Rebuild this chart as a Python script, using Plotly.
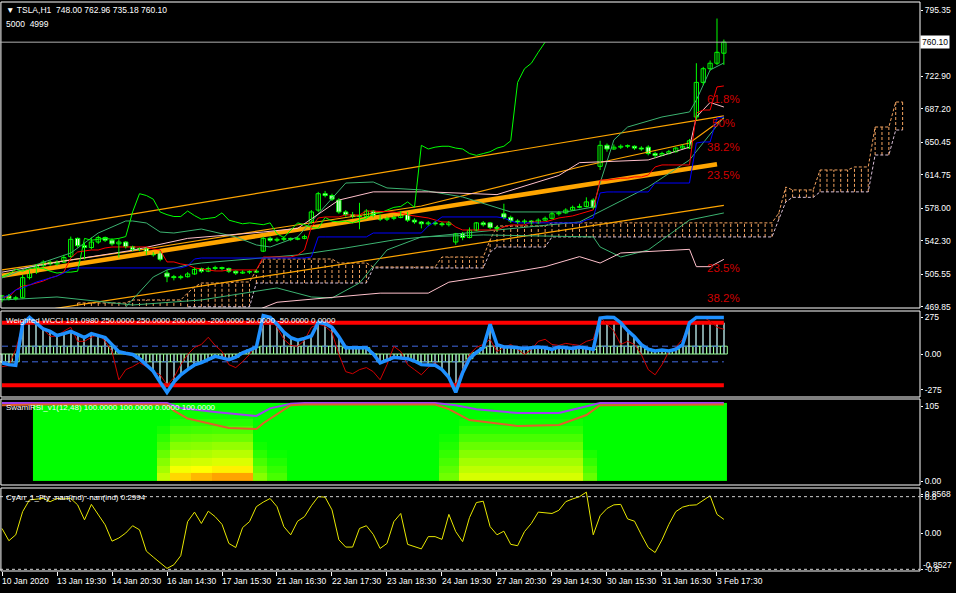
import plotly.graph_objects as go

# ---------------- data ----------------
bars = list(range(106))
opens = [478,482,479,480,502,508,515,519,517,519, 525,545,537,535,541,546,543,539,541,536,
         533,534,528,530,507,503,502,503,506,512, 509,512,513,512,509,507,508,508,531,545,
         543,544,545,544,545,563,576,594,592,587, 574,571,569,569,575,570,566,567,568,573,
         565,563,561,562,561,560,541,550,546,554, 562,562,557,572,568,564,563,564,562,565,
         567,572,573,576,579,580,587,624,647,643, 645,646,646,644,645,638,636,638,640,644,
         644,678,716,731,737,748]
highs = [483,484,482,505,510,517,521,521,521,527, 547,546,540,546,548,547,545,544,542,537,
         535,535,530,531,510,505,505,508,513,513, 514,515,514,513,510,510,510,511,547,547,
         546,547,546,547,549,576,596,597,594,589, 576,574,584,577,576,571,569,570,575,574,
         567,564,564,564,563,564,551,552,557,563, 564,563,559,583,570,566,566,565,567,569,
         574,575,578,581,583,590,589,652,649,648, 648,648,647,646,647,640,640,642,645,648,
         654,737,733,740,786,762.96]
lows = [475,477,477,479,500,506,513,515,515,518, 524,535,522,533,539,541,537,524,534,531,
        531,527,525,520,497,499,500,502,505,507, 508,510,510,507,505,506,506,507,530,541,
        541,542,542,543,544,561,574,590,586,572, 569,567,555,567,568,564,564,565,567,563,
        561,556,559,559,558,558,538,543,545,553, 558,555,553,566,562,561,561,560,561,564,
        566,570,572,575,578,579,577,620,640,642, 643,644,642,641,636,633,635,637,639,643,
        643,675,713,729,735,735.18]
closes = [482,479,480,502,508,515,519,517,519,524, 544,537,535,541,546,543,539,541,536,533,
          534,528,527,522,503,502,503,506,511,509, 512,513,512,509,507,508,508,509,545,543,
          544,545,544,545,547,574,594,592,588,574, 571,569,569,575,570,566,567,568,573,565,
          563,561,562,561,560,562,550,546,554,562, 560,557,556,568,564,563,564,562,565,567,
          572,573,576,579,580,585,579,647,643,645, 646,646,644,643,638,636,638,640,644,646,
          652,716,731,737,749,760.10]

tenkan = [480.8,480.8,488.5,492.8,493.9,496.1,498.3,501.6,503.8,508.2, 523.5,530.1,531.2,532.3,532.3,534.5,535.6,535.6,535.6,535.6,
          535.6,535.6,533.4,532.3,519.2,519.2,517.0,515.9,512.6,511.5, 510.4,509.3,509.3,510.4,510.4,510.4,510.4,510.4,524.6,524.6,
          524.6,524.6,524.6,526.8,532.3,557.5,567.4,568.5,568.5,568.5, 570.7,570.7,570.7,575.1,574.5,574.5,574.5,574.0,572.9,570.7,
          569.6,568.5,567.4,565.2,563.0,563.0,557.5,554.2,554.2,554.2, 554.2,554.2,554.2,557.5,559.7,559.7,559.7,563.0,563.0,563.0,
          565.2,567.4,568.5,569.6,571.8,574.0,576.2,609.0,609.0,610.0, 611.0,611.0,612.4,612.4,614.5,623.3,625.5,625.5,625.5,625.5,
          625.5,682.4,685.7,685.7,711.0,712.1]
kijun = [479.7,483.0,488.5,490.7,493.9,497.2,499.4,501.6,503.8,507.1, 511.5] + [512.6]*16 + [514.8,522.4] + [523.5]*16 + \
        [524.6] + [546.6]*8 + [550.9]*8 + [558.6,563.0] + [568.5]*9 + [567.4,564.1] + [562.0]*10 + [565.2,567.4,594.8] + \
        [595.9]*7 + [605.7]*6 + [649.6,650.7,650.7,677.0,678.1]

cloud_bars = list(range(11, 132))
senkou_a = [474.2]*8 + [477.5]*8 + [485.2,491.7] + [496.1]*5 + [497.2]*3 + [510.4] + [522.4]*11 + [518.0]*5 + \
           [513.7]*10 + [524.6]*7 + [543.3] + [558.6]*8 + [562.0]*33 + [572.9,601.3] + [598.1]*4 + [620.0]*5 + \
           [623.3]*3 + [667.1]*3 + [694.5]*2
senkou_b = [460.0]*16 + [470.0]*10 + [496.1]*17 + [512.6]*17 + [530.0] + [535.6]*8 + [546.6]*33 + [566.0,585.0] + \
           [590.0]*4 + [596.0]*8 + [636.4]*3 + [663.8]*2

# regression channel (orange)
chan_up_bars, chan_up_vals = [0, 105], [548.0, 679.2]
chan_mid_bars, chan_mid_vals = [0, 104], [504.1, 626.2]
chan_lo_bars, chan_lo_vals = [0, 105], [459.2, 581.1]
ma_or_bars = [0, 20, 40, 61, 84, 100, 105]
ma_or_vals = [510.4, 532.3, 556.4, 580.5, 623.3, 649.6, 677.0]

# sea-green bands
bb_up_bars = [0,4,10,14,18,19,21,23,25,29,34,37,39,43,50,54,56,61,67,74,82,86,87,89,91,96,100,101,103,105]
bb_up_vals = [501.6,513.7,529.0,550.9,564.1,564.1,561.9,552.0,550.9,555.3,546.6,537.8,535.6,546.6,605.7,606.8,
              600.3,598.1,590.4,574.0,574.0,579.4,605.7,652.9,667.1,678.1,683.6,696.7,729.6,737.3]
bb_lo_bars = [0,8,19,29,40,45,48,52,56,61,70,83,86,87,90,94,100,105]
bb_lo_vals = [477.5,480.8,472.0,477.5,490.7,480.8,479.7,496.1,532.3,546.6,548.8,546.6,546.6,535.6,524.6,532.3,565.2,572.9]
bb_mid_bars = [18,22,24,27,29,38,43,50,57,72,84,94,100,105]
bb_mid_vals = [469.8,502.7,510.4,515.9,518.0,523.5,526.8,534.5,543.3,554.2,563.0,601.3,630.9,678.1]

# pink envelope
pk_up_bars = [0,8,19,27,38,43,49,54,62,72,81,84,94,100,101,103,105]
pk_up_vals = [508,519,532,545,552,556,587,596,596,593,614,628,631,645,678,694,689]
pk_lo_bars = [37,40,55,62,65,72,79,84,87,90,100,101,103,105]
pk_lo_vals = [466,475,485,485,497,505,514,525,518,529,533,514,514,522]

fib_texts = ["61.8%", "50%", "38.2%", "23.5%", "23.5%", "38.2%"]
fib_prices = [697.7, 671.5, 645.2, 614.5, 512.6, 479.7]

main_ticks = [795.35, 722.90, 687.20, 650.45, 614.75, 578.00, 542.30, 505.55, 469.85]

# Weighted WCCI
wcci_blue = [-57,-68,-72,191,234,195,160,145,118,130, 144,125,105,131,120,105,60,14,5,-3,
             -30,-70,-110,-180,-245,-180,-133,-100,-70,-55, -35,-15,-25,-36,-20,8,25,44,245,234,
             191,140,105,89,100,115,202,195,170,110, 40,40,40,40,0,-57,-40,-21,-25,-30,
             -45,-68,-70,-72,-100,-150,-245,-120,-30,10, 40,190,60,45,45,40,35,40,45,40,
             30,45,40,35,45,40,30,230,235,234, 200,150,110,60,30,20,25,20,30,60,
             200,234,234,234,234,234]
wcci_red = [-81,-74,29,184,210,191,158,113,113,146, 171,81,81,107,126,81,16,-165,-100,-81,
            -55,-81,-113,-133,-197,-152,-68,-3,42,61, 107,55,16,-68,-87,-49,-3,61,191,223,
            171,94,55,49,87,171,191,178,139,-3, -113,-126,-100,-87,-113,-165,-68,49,16,-68,
            -100,-133,-87,-55,-100,-165,-197,-100,-3,42, 61,94,16,42,61,29,-3,29,81,94,
            61,55,68,61,55,81,94,236,191,146, 61,81,61,-3,-100,-133,-68,16,42,94,
            191,236,236,210,171,158]
wcci_levels_hi = [200, -200]
wcci_levels_lo = [50, -50]

# SwamiRSI (columns = bar segments, values bottom row -> top row)
swami_edges_x = [4.5, 22.5, 24.5, 27.5, 30.5, 36.5, 38.5, 41.5, 63.5, 66.5, 84.5, 86.5, 105.5]
swami_edges_y = [0, 10, 20, 30, 40, 50, 60, 70, 80, 90, 100]
swami_cols = [
    [100,100,100,100,100,100,100,100,100,100],
    [62,68,74,80,86,91,96,100,100,100],
    [42,52,60,67,74,81,88,94,98,100],
    [36,50,59,66,73,80,87,93,98,100],
    [32,47,57,64,71,79,86,93,98,100],
    [74,80,86,92,97,100,100,100,100,100],
    [86,90,94,98,100,100,100,100,100,100],
    [100,100,100,100,100,100,100,100,100,100],
    [78,82,86,90,94,97,100,100,100,100],
    [58,63,68,74,80,86,92,97,100,100],
    [80,85,90,95,100,100,100,100,100,100],
    [100,100,100,100,100,100,100,100,100,100],
]
sw_purple_bars = [0,24,26,31,37,39,42,44,63,66,69,75,81,85,87,105]
sw_purple_vals = [100,100,93.5,88.4,83.3,93,99,100,100,97,92,87,87,95.8,100,100]
sw_orange_bars = [0,5,24,25,27,33,37,38,42,44,63,65,68,75,81,85,87,105]
sw_orange_vals = [97,98,98,90,80,68,66.6,74,97,98,98,92,78,70.5,71.7,84.5,97,98]

# CyAn
cyan_vals = [0.10,-0.17,-0.04,0.47,0.73,0.75,0.76,0.69,0.76,0.75, 0.76,0.62,0.29,0.63,0.40,0.18,-0.18,-0.11,0.0,0.16,
             0.07,-0.40,-0.53,-0.66,-0.78,-0.70,-0.50,0.25,0.46,0.21, 0.48,0.36,0.19,-0.23,-0.32,0.12,0.25,0.58,0.68,0.76,
             0.58,0.14,-0.04,0.26,0.36,0.60,0.80,0.79,0.51,-0.15, -0.31,-0.31,0.10,0.16,-0.03,-0.34,-0.23,0.25,0.43,-0.25,
             -0.30,-0.35,-0.08,-0.08,-0.14,0.41,0.03,-0.19,0.34,0.67, 0.70,0.14,-0.04,0.04,-0.25,-0.28,0.03,0.21,0.46,0.44,
             0.43,0.50,0.69,0.75,0.80,0.90,-0.04,0.38,0.54,0.62, 0.63,0.31,0.26,-0.04,-0.32,-0.43,-0.15,0.19,0.47,0.57,
             0.61,0.62,0.73,0.82,0.41,0.30]
cyan_levels = [0.8, -0.8]

tick_bars = [0, 8, 16, 24, 32, 40, 48, 56, 64, 72, 80, 88, 96, 104]
tick_labels = ["10 Jan 2020", "13 Jan 19:30", "14 Jan 20:30", "16 Jan 14:30", "17 Jan 15:30", "21 Jan 16:30",
               "22 Jan 17:30", "23 Jan 18:30", "24 Jan 19:30", "27 Jan 20:30", "29 Jan 14:30", "30 Jan 15:30",
               "31 Jan 16:30", "3 Feb 17:30"]

# ---------------- figure ----------------
FONT = "Liberation Sans, Arial, sans-serif"
NB = "\u00a0"
fig = go.Figure()

# cloud hatching
hx_up, hy_up, hx_dn, hy_dn = [], [], [], []
for j, a, b in zip(cloud_bars, senkou_a, senkou_b):
    if a >= b:
        hx_up += [j, j, None]; hy_up += [b, a, None]
    else:
        hx_dn += [j, j, None]; hy_dn += [b, a, None]
fig.add_trace(go.Scatter(x=hx_up, y=hy_up, mode="lines", line=dict(color="#F4A460", width=1, dash="3px,2px")))
fig.add_trace(go.Scatter(x=hx_dn, y=hy_dn, mode="lines", line=dict(color="#D8BFD8", width=1, dash="3px,2px")))
fig.add_trace(go.Scatter(x=cloud_bars, y=senkou_a, mode="lines", line=dict(color="#F4A460", width=1, dash="3px,2px")))
fig.add_trace(go.Scatter(x=cloud_bars, y=senkou_b, mode="lines", line=dict(color="#D8BFD8", width=1, dash="3px,2px")))

# orange channel
for bx, vy, w in [(chan_up_bars, chan_up_vals, 1.2), (chan_lo_bars, chan_lo_vals, 1.2),
                  (ma_or_bars, ma_or_vals, 1.2), (chan_mid_bars, chan_mid_vals, 4.5)]:
    fig.add_trace(go.Scatter(x=bx, y=vy, mode="lines", line=dict(color="#FFA500", width=w)))
# sea-green
for bx, vy in [(bb_up_bars, bb_up_vals), (bb_lo_bars, bb_lo_vals), (bb_mid_bars, bb_mid_vals)]:
    fig.add_trace(go.Scatter(x=bx, y=vy, mode="lines", line=dict(color="#3CB371", width=1)))
# pink
for bx, vy in [(pk_up_bars, pk_up_vals), (pk_lo_bars, pk_lo_vals)]:
    fig.add_trace(go.Scatter(x=bx, y=vy, mode="lines", line=dict(color="#FFC0CB", width=1)))
# chikou (close shifted back 26 bars)
fig.add_trace(go.Scatter(x=bars[:len(closes) - 26], y=closes[26:], mode="lines", line=dict(color="#00FF00", width=1)))
fig.add_trace(go.Scatter(x=bars, y=tenkan, mode="lines", line=dict(color="#FF0000", width=1)))
fig.add_trace(go.Scatter(x=bars, y=kijun, mode="lines", line=dict(color="#0000FF", width=1)))

# candles: wicks + bodies (bull = black body, bear = white body, lime outline)
wx, wy = [], []
for i, hi, lo in zip(bars, highs, lows):
    wx += [i, i, None]; wy += [lo, hi, None]
fig.add_trace(go.Scatter(x=wx, y=wy, mode="lines", line=dict(color="#00FF00", width=1)))
for bull, fill in ((True, "#000000"), (False, "#FFFFFF")):
    bx, bb, bh = [], [], []
    for i, o, c in zip(bars, opens, closes):
        if (c >= o) == bull:
            bx.append(i); bb.append(min(o, c)); bh.append(max(abs(c - o), 0.7))
    fig.add_trace(go.Bar(x=bx, y=bh, base=bb, width=0.62, yaxis="y",
                         marker=dict(color=fill, line=dict(color="#00FF00", width=1))))

# ---- WCCI ----
hist_dark = [max(-200, min(200, v)) for v in wcci_blue]
hist_light = [max(-50, min(50, v)) for v in wcci_blue]
fig.add_trace(go.Bar(x=bars, y=hist_dark, width=0.15, marker=dict(color="#7FA0A0", line=dict(width=0)), yaxis="y2"))
fig.add_trace(go.Bar(x=bars, y=hist_light, width=1.0,
                     marker=dict(color="rgba(0,0,0,0)", line=dict(color="#98FB98", width=1)), yaxis="y2"))
for lv in wcci_levels_lo:
    fig.add_trace(go.Scatter(x=[bars[0], bars[-1]], y=[lv, lv], mode="lines", yaxis="y2",
                             line=dict(color="#4169E1", width=1, dash="6px,4px")))
for lv in wcci_levels_hi:
    fig.add_trace(go.Scatter(x=[bars[0], bars[-1]], y=[lv, lv], mode="lines", yaxis="y2",
                             line=dict(color="#FF0000", width=4)))
fig.add_trace(go.Scatter(x=bars, y=wcci_red, mode="lines", yaxis="y2", line=dict(color="#D00000", width=1)))
fig.add_trace(go.Scatter(x=bars, y=wcci_blue, mode="lines", yaxis="y2", line=dict(color="#1E90FF", width=3.5)))

# ---- Swami ----
swami_z = [[col[r] for col in swami_cols] for r in range(len(swami_edges_y) - 1)]
fig.add_trace(go.Heatmap(x=swami_edges_x, y=swami_edges_y, z=swami_z, zmin=0, zmax=100, showscale=False,
                         colorscale=[[0, "#FF0000"], [0.3, "#FF9900"], [0.5, "#FFFF00"], [1, "#00FF00"]],
                         yaxis="y3", hoverinfo="skip"))
fig.add_trace(go.Scatter(x=sw_purple_bars, y=sw_purple_vals, mode="lines", yaxis="y3",
                         line=dict(color="#A040F0", width=2)))
fig.add_trace(go.Scatter(x=sw_orange_bars, y=sw_orange_vals, mode="lines", yaxis="y3",
                         line=dict(color="#E0602A", width=2)))

# ---- CyAn ----
fig.add_trace(go.Scatter(x=bars, y=cyan_vals, mode="lines", yaxis="y4", line=dict(color="#E8E800", width=1)))

# ---------------- layout ----------------
H_PLOT = 571.0
def dom(top_px, bot_px):
    return [(H_PLOT - bot_px) / H_PLOT, (H_PLOT - top_px) / H_PLOT]

d_main, d_wcci, d_sw, d_cy = dom(2, 308), dom(311, 397), dom(399, 485), dom(488, 571)
tickfont = dict(family=FONT, size=8.5, color="#FFFFFF")
yax_common = dict(side="right", showgrid=False, zeroline=False, ticks="outside", ticklen=2,
                  tickcolor="#FFFFFF", tickfont=tickfont, showline=False, fixedrange=True, automargin=False)

fig.update_layout(
    width=956, height=593, margin=dict(l=0, r=36, t=0, b=22, pad=0),
    paper_bgcolor="#000000", plot_bgcolor="#000000", showlegend=False, barmode="overlay",
    xaxis=dict(range=[-0.291, 133.53], showgrid=False, zeroline=False, anchor="y4", automargin=False,
               tickvals=tick_bars, ticktext=[""] * len(tick_bars), ticks="outside", ticklen=4,
               tickcolor="#FFFFFF", showline=False),
    yaxis=dict(domain=d_main, range=[468.7, 804.12], tickvals=main_ticks,
               ticktext=["%.2f" % v for v in main_ticks], **yax_common),
    yaxis2=dict(domain=d_wcci, range=[-275, 275], tickvals=[236, 0, -230],
                ticktext=["275", "0.00", "-275"], **yax_common),
    yaxis3=dict(domain=d_sw, range=[-5, 105], tickvals=[96, 0], ticktext=["105", "0.00"], **yax_common),
    yaxis4=dict(domain=d_cy, range=[-0.837, 0.991], tickvals=[0.8568, 0.8, 0.0, -0.8],
                ticktext=["0.8568", "0.8", "0.00", "-0.8"], **yax_common),
)

shapes = []
for d in (d_main, d_wcci, d_sw, d_cy):
    shapes.append(dict(type="rect", xref="paper", yref="paper", x0=0.001, x1=1, y0=d[0], y1=d[1],
                       line=dict(color="#FFFFFF", width=1)))
shapes.append(dict(type="line", xref="paper", yref="y", x0=0, x1=1, y0=closes[-1], y1=closes[-1],
                   line=dict(color="#B0B0B0", width=1)))
for lv in cyan_levels:
    shapes.append(dict(type="line", xref="paper", yref="y4", x0=0, x1=1, y0=lv, y1=lv,
                       line=dict(color="#D0D0D0", width=1, dash="3px,3px")))
fig.update_layout(shapes=shapes)

ann = []
for b, t in zip(tick_bars, tick_labels):
    ann.append(dict(x=b, y=-10 / H_PLOT, xref="x", yref="paper", text=t.replace(" ", NB), showarrow=False,
                    xanchor="left", yanchor="middle", xshift=-2, font=dict(family=FONT, size=8.5, color="#FFFFFF")))
for t, p in zip(fib_texts, fib_prices):
    ann.append(dict(x=bars[-1], y=p, xref="x", yref="y", text=t, showarrow=False, xanchor="center",
                    yanchor="middle", font=dict(family=FONT, size=11.5, color="#D00000")))
ann.append(dict(x=1, y=closes[-1], xref="paper", yref="y", text="%.2f" % closes[-1], showarrow=False,
                xanchor="left", yanchor="middle", xshift=0, bgcolor="#FFFFFF", borderpad=1,
                font=dict(family=FONT, size=8.5, color="#000000")))
ann.append(dict(x=1, y=-0.705, xref="paper", yref="y4", text="-0.8527", showarrow=False, xanchor="left",
                yanchor="middle", xshift=1, font=dict(family=FONT, size=8.5, color="#FFFFFF")))
titles = [
    ("\u25BC " + "TSLA,H1" + NB * 2 + "%.2f %.2f %.2f %.2f" % (opens[-1], highs[-1], lows[-1], closes[-1]), 10, 8.5),
    ("5000" + NB * 2 + "4999", 24, 8.5),
    ("Weighted WCCI 191.0980 250.0000 250.0000 200.0000 -200.0000 50.0000 -50.0000 0.0000", 320, 8),
    ("SwamiRSI_v1(12,48) 100.0000 100.0000 0.0000 100.0000", 408, 8),
    ("CyAn_1_Fty -nan(ind) -nan(ind) 0.2994", 497, 8),
]
for t, ypx, fs in titles:
    ann.append(dict(x=0.004, y=(H_PLOT - ypx) / H_PLOT, xref="paper", yref="paper", text=t.replace(" ", NB),
                    showarrow=False, xanchor="left", yanchor="middle",
                    font=dict(family=FONT, size=fs, color="#FFFFFF")))
fig.update_layout(annotations=ann)

fig.write_html("out.html", config={"displayModeBar": False},
               post_script="document.body.style.margin='0';document.body.style.background='#000000';")
